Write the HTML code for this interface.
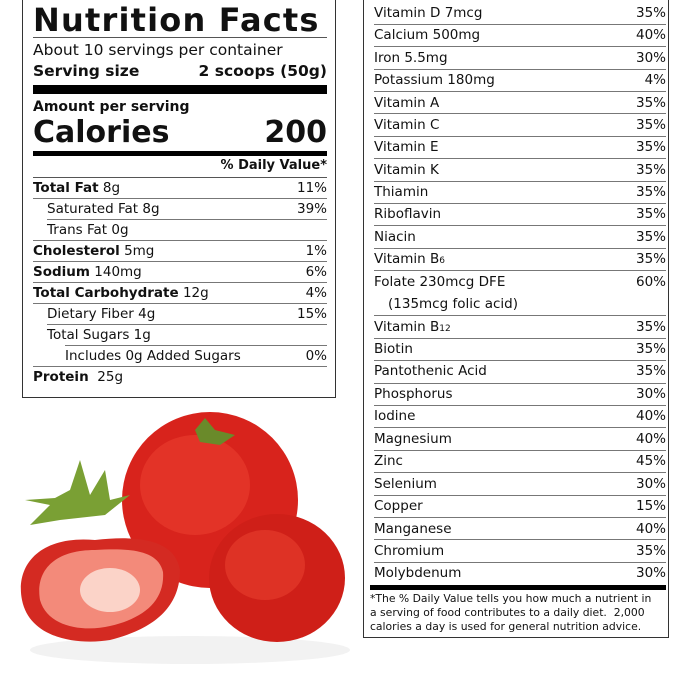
<!DOCTYPE html>
<html><head><style>
body{margin:0;width:679px;height:679px;background:#fff;position:relative;overflow:hidden;font-family:"DejaVu Sans","Liberation Sans",sans-serif;color:#111}
.a{position:absolute;white-space:nowrap}
.box{position:absolute;border:1.5px solid #333;box-sizing:border-box}
.ln{position:absolute;height:1px;background:#777}
.r{position:absolute;left:0;right:0;font-size:13.5px;line-height:18px}
.r span{position:absolute;right:0}
b{font-weight:bold}
</style></head><body>
<svg class="a" style="left:0;top:400px" width="360" height="279">
<ellipse cx="190" cy="250" rx="160" ry="14" fill="#f2f2f2"/>
<ellipse cx="210" cy="100" rx="88" ry="88" fill="#d8231c"/>
<ellipse cx="195" cy="85" rx="55" ry="50" fill="#e83a2c" opacity=".7"/>
<path d="M195 30 L205 18 L215 30 L235 35 L220 45 L200 42Z" fill="#6a8a2a"/>
<ellipse cx="277" cy="178" rx="68" ry="64" fill="#cf1f18"/>
<ellipse cx="265" cy="165" rx="40" ry="35" fill="#e8402f" opacity=".6"/>
<path d="M95 140 C40 135 15 165 22 200 C30 240 80 245 110 240 C150 230 180 210 180 170 C175 140 140 135 95 140Z" fill="#d42a22"/>
<path d="M95 150 C55 150 35 170 40 200 C48 228 85 232 110 226 C145 218 165 200 163 172 C158 150 130 148 95 150Z" fill="#f38a7a"/>
<ellipse cx="110" cy="190" rx="30" ry="22" fill="#fbd3c8"/>
<path d="M70 90 L80 60 L90 95 L105 70 L110 100 L130 95 L105 115 L60 120 L30 125 L50 105 L25 100 L55 98Z" fill="#7aa034"/>
</svg>
<div class="box" style="left:22px;top:-2px;width:314px;height:400px"></div>
<div class="a" style="left:33px;top:0;font-size:32px;font-weight:bold;line-height:40px;letter-spacing:1.2px">Nutrition Facts</div>
<div class="ln" style="left:33px;width:294px;top:37px;background:#555"></div>
<div class="a" style="left:33px;top:40px;font-size:15.5px;line-height:20px">About 10 servings per container</div>
<div class="a" style="left:33px;top:61px;width:294px;font-size:15.5px;line-height:20px;font-weight:bold">Serving size<span style="position:absolute;right:0">2 scoops (50g)</span></div>
<div class="a" style="left:33px;top:85px;width:294px;height:9px;background:#000"></div>
<div class="a" style="left:33px;top:98px;font-size:14px;font-weight:bold;line-height:18px">Amount per serving</div>
<div class="a" style="left:33px;top:114px;width:294px;font-size:30px;font-weight:bold;line-height:38px">Calories<span style="position:absolute;right:0">200</span></div>
<div class="a" style="left:33px;top:151px;width:294px;height:5px;background:#000"></div>
<div class="a" style="left:33px;top:157px;width:294px;text-align:right;font-size:13px;font-weight:bold;line-height:18px">% Daily Value*</div>
<div class="a" style="left:33px;top:175px;width:294px;height:340px">
<div class="ln" style="left:0;width:294px;top:2px;background:#555"></div>
<div class="r" style="top:4px"><b>Total Fat</b> 8g<span>11%</span></div>
<div class="ln" style="left:0;width:294px;top:23px"></div>
<div class="r" style="top:25px;left:14px">Saturated Fat 8g<span>39%</span></div>
<div class="ln" style="left:14px;width:280px;top:44px"></div>
<div class="r" style="top:46px;left:14px">Trans Fat 0g</div>
<div class="ln" style="left:0;width:294px;top:65px"></div>
<div class="r" style="top:67px"><b>Cholesterol</b> 5mg<span>1%</span></div>
<div class="ln" style="left:0;width:294px;top:86px"></div>
<div class="r" style="top:88px"><b>Sodium</b> 140mg<span>6%</span></div>
<div class="ln" style="left:0;width:294px;top:107px"></div>
<div class="r" style="top:109px"><b>Total Carbohydrate</b> 12g<span>4%</span></div>
<div class="ln" style="left:0;width:294px;top:128px"></div>
<div class="r" style="top:130px;left:14px">Dietary Fiber 4g<span>15%</span></div>
<div class="ln" style="left:14px;width:280px;top:149px"></div>
<div class="r" style="top:151px;left:14px">Total Sugars 1g</div>
<div class="ln" style="left:32px;width:262px;top:170px"></div>
<div class="r" style="top:172px;left:32px">Includes 0g Added Sugars<span>0%</span></div>
<div class="ln" style="left:0;width:294px;top:191px"></div>
<div class="r" style="top:193px"><b>Protein</b>&nbsp; 25g</div>
</div>
<div class="box" style="left:363px;top:-2px;width:306px;height:640px"></div>
<div class="a" style="left:374px;top:0;width:292px;height:640px;font-size:14px">
<div class="r" style="top:4px">Vitamin D 7mcg<span>35%</span></div>
<div class="ln" style="left:0;right:0;top:24px"></div>
<div class="r" style="top:26px">Calcium 500mg<span>40%</span></div>
<div class="ln" style="left:0;right:0;top:46px"></div>
<div class="r" style="top:49px">Iron 5.5mg<span>30%</span></div>
<div class="ln" style="left:0;right:0;top:69px"></div>
<div class="r" style="top:71px">Potassium 180mg<span>4%</span></div>
<div class="ln" style="left:0;right:0;top:91px"></div>
<div class="r" style="top:94px">Vitamin A<span>35%</span></div>
<div class="ln" style="left:0;right:0;top:113px"></div>
<div class="r" style="top:116px">Vitamin C<span>35%</span></div>
<div class="ln" style="left:0;right:0;top:136px"></div>
<div class="r" style="top:138px">Vitamin E<span>35%</span></div>
<div class="ln" style="left:0;right:0;top:158px"></div>
<div class="r" style="top:161px">Vitamin K<span>35%</span></div>
<div class="ln" style="left:0;right:0;top:181px"></div>
<div class="r" style="top:183px">Thiamin<span>35%</span></div>
<div class="ln" style="left:0;right:0;top:203px"></div>
<div class="r" style="top:205px">Riboflavin<span>35%</span></div>
<div class="ln" style="left:0;right:0;top:225px"></div>
<div class="r" style="top:228px">Niacin<span>35%</span></div>
<div class="ln" style="left:0;right:0;top:248px"></div>
<div class="r" style="top:250px">Vitamin B<small style="font-size:9px">6</small><span>35%</span></div>
<div class="ln" style="left:0;right:0;top:270px"></div>
<div class="r" style="top:273px">Folate 230mcg DFE<span>60%</span></div>
<div class="r" style="top:295px;left:14px">(135mcg folic acid)</div>
<div class="ln" style="left:0;right:0;top:315px"></div>
<div class="r" style="top:318px">Vitamin B<small style="font-size:9px">12</small><span>35%</span></div>
<div class="ln" style="left:0;right:0;top:338px"></div>
<div class="r" style="top:340px">Biotin<span>35%</span></div>
<div class="ln" style="left:0;right:0;top:360px"></div>
<div class="r" style="top:362px">Pantothenic Acid<span>35%</span></div>
<div class="ln" style="left:0;right:0;top:383px"></div>
<div class="r" style="top:385px">Phosphorus<span>30%</span></div>
<div class="ln" style="left:0;right:0;top:405px"></div>
<div class="r" style="top:407px">Iodine<span>40%</span></div>
<div class="ln" style="left:0;right:0;top:427px"></div>
<div class="r" style="top:430px">Magnesium<span>40%</span></div>
<div class="ln" style="left:0;right:0;top:450px"></div>
<div class="r" style="top:452px">Zinc<span>45%</span></div>
<div class="ln" style="left:0;right:0;top:472px"></div>
<div class="r" style="top:475px">Selenium<span>30%</span></div>
<div class="ln" style="left:0;right:0;top:495px"></div>
<div class="r" style="top:497px">Copper<span>15%</span></div>
<div class="ln" style="left:0;right:0;top:517px"></div>
<div class="r" style="top:520px">Manganese<span>40%</span></div>
<div class="ln" style="left:0;right:0;top:539px"></div>
<div class="r" style="top:542px">Chromium<span>35%</span></div>
<div class="ln" style="left:0;right:0;top:562px"></div>
<div class="r" style="top:564px">Molybdenum<span>30%</span></div>
</div>
<div class="a" style="left:370px;top:585px;width:296px;height:5px;background:#000"></div>
<div class="a" style="left:370px;top:592px;font-size:10.8px;line-height:14px;white-space:normal;width:300px">*The % Daily Value tells you how much a nutrient in<br>a serving of food contributes to a daily diet.&nbsp; 2,000<br>calories a day is used for general nutrition advice.</div>
</body></html>
